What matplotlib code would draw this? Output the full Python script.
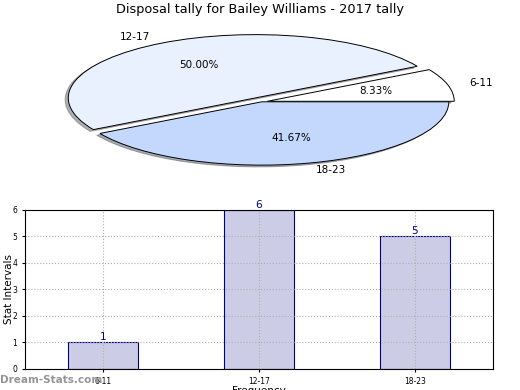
import matplotlib
matplotlib.use('Agg')
import matplotlib.pyplot as plt

# Data
categories = ['6-11', '12-17', '18-23']
counts = [1, 6, 5]
pie_colors = ['#ffffff', '#eaf1fe', '#c4d8fe']
explode = [0.03, 0.07, 0.0]

fig = plt.figure(figsize=(5.2, 3.9), dpi=100)

# Pie (squashed, no equal aspect)
ax_pie = fig.add_axes([0.054, 0.536, 0.899, 0.406])
wedges, texts, autotexts = ax_pie.pie(
    counts, labels=categories, colors=pie_colors, explode=explode,
    autopct='%1.2f%%', pctdistance=0.6, labeldistance=1.12,
    shadow={'ox': -0.012, 'oy': -0.02, 'shade': 0.6},
    startangle=0, wedgeprops={'edgecolor': 'black', 'linewidth': 0.7},
    textprops={'fontsize': 7.5})
ax_pie.set_aspect('auto')
ax_pie.set_xlim(-1.25, 1.25)
ax_pie.set_ylim(-1.25, 1.25)

fig.text(0.5, 0.975, 'Disposal tally for Bailey Williams - 2017 tally',
         ha='center', va='center', fontsize=9.3)

# Bar chart
ax_bar = fig.add_axes([0.048, 0.054, 0.9, 0.408])
x = range(len(categories))
ax_bar.bar(x, counts, width=0.45, color='#ccccE6', edgecolor='navy', linewidth=0.8)
for xi, v in zip(x, counts):
    ax_bar.text(xi, v, str(v), ha='center', va='bottom', color='navy', fontsize=7.5)
ax_bar.set_xlim(-0.5, 2.5)
ax_bar.set_ylim(0, 6)
ax_bar.set_xticks(list(x))
ax_bar.set_xticklabels(categories)
ax_bar.tick_params(labelsize=5.5, length=2)
ax_bar.set_axisbelow(False)
ax_bar.grid(True, linestyle=':', color='#b0b0b0', linewidth=0.8)
for sp in ax_bar.spines.values():
    sp.set_zorder(5)
ax_bar.set_ylabel('Stat Intervals', fontsize=7.5)
ax_bar.yaxis.set_label_coords(-0.024, 0.5)
ax_bar.set_xlabel('Frequency', fontsize=7.5, labelpad=0)

fig.text(0.0, 0.026, 'Dream-Stats.com', color='#959595', fontsize=7.5,
         fontweight='bold', ha='left', va='center')

fig.savefig('out.png', dpi=100)
